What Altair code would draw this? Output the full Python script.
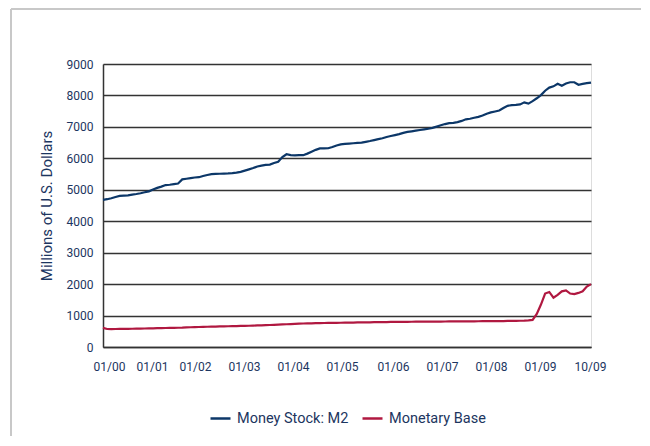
import altair as alt
import pandas as pd

# Monthly values, Jan 2000 .. Oct 2009
m2_values = [
    4680, 4700, 4730, 4770, 4805, 4812, 4820, 4845, 4865, 4890, 4920, 4950,  # 2000
    5010, 5060, 5100, 5150, 5160, 5180, 5200, 5330, 5350, 5370, 5390, 5400,  # 2001
    5440, 5470, 5500, 5505, 5510, 5515, 5520, 5530, 5545, 5570, 5610, 5650,  # 2002
    5690, 5740, 5770, 5790, 5800, 5850, 5890, 6040, 6130, 6100, 6095, 6100,  # 2003
    6100, 6150, 6210, 6270, 6315, 6315, 6320, 6360, 6410, 6445, 6460, 6470,  # 2004
    6480, 6490, 6500, 6525, 6550, 6580, 6610, 6640, 6680, 6710, 6740, 6770,  # 2005
    6810, 6840, 6860, 6880, 6900, 6920, 6940, 6970, 7010, 7050, 7090, 7120,  # 2006
    7130, 7150, 7190, 7240, 7260, 7290, 7320, 7360, 7420, 7460, 7490, 7520,  # 2007
    7600, 7670, 7690, 7700, 7715, 7780, 7740, 7820, 7910, 8010, 8150, 8250,  # 2008
    8290, 8370, 8310, 8380, 8420, 8420, 8340, 8370, 8390, 8410,              # 2009
]
base_values = [
    610, 572, 570, 572, 575, 577, 579, 581, 583, 585, 588, 592,              # 2000
    595, 598, 601, 604, 607, 610, 613, 616, 625, 628, 632, 636,              # 2001
    640, 644, 648, 651, 654, 657, 660, 663, 666, 669, 672, 675,              # 2002
    680, 685, 690, 695, 700, 706, 712, 718, 724, 730, 736, 742,              # 2003
    748, 751, 754, 757, 760, 763, 766, 768, 770, 772, 774, 776,              # 2004
    778, 780, 782, 784, 786, 788, 790, 792, 794, 796, 798, 800,              # 2005
    801, 802, 803, 804, 805, 806, 807, 808, 809, 810, 811, 812,              # 2006
    813, 814, 815, 816, 817, 818, 819, 820, 821, 822, 823, 824,              # 2007
    826, 828, 830, 832, 834, 838, 845, 860, 1050, 1350, 1700, 1750,          # 2008
    1570, 1660, 1770, 1800, 1700, 1680, 1720, 1770, 1920, 2000,              # 2009
]
series_names = ["Money Stock: M2", "Monetary Base"]
series_colors = ["#0c3768", "#b01840"]

# x-axis labels and where they sit (in months since Jan 2000), as in the reference
tick_labels = ["01/00", "01/01", "01/02", "01/03", "01/04", "01/05",
               "01/06", "01/07", "01/08", "01/09", "10/09"]
tick_months = [1.44, 11.75, 22.06, 33.81, 45.56, 57.3,
               69.53, 81.28, 93.03, 104.78, 116.77]

rows = []
for name, vals in zip(series_names, [m2_values, base_values]):
    for i, v in enumerate(vals):
        rows.append({"month": i, "value": v, "series": name})
df = pd.DataFrame(rows)

label_expr = "[" + ",".join(f"'{t}'" for t in tick_labels) + "][indexof([" + \
    ",".join(str(m) for m in tick_months) + "], datum.value)]"

FONT = "Roboto"
TEXT = "#1c3560"

lines = alt.Chart(df).mark_line(strokeWidth=2.2).encode(
    x=alt.X("month:Q",
            scale=alt.Scale(domain=[0, 117], nice=False, zero=False),
            axis=alt.Axis(values=tick_months, labelExpr=label_expr, title=None,
                          grid=False, ticks=False, domainColor="#333333",
                          domainWidth=1.5, labelPadding=14, labelFontSize=12,
                          labelOverlap=False, labelFlush=False,
                          labelColor=TEXT, labelFont=FONT)),
    y=alt.Y("value:Q",
            scale=alt.Scale(domain=[0, 9000], nice=False),
            axis=alt.Axis(values=list(range(0, 9001, 1000)), format="d",
                          title="Millions of U.S. Dollars", titleFontSize=15,
                          titleFontWeight="normal", titleColor=TEXT, titleFont=FONT,
                          titlePadding=12,
                          grid=True, gridColor="#333333", gridWidth=1.3,
                          ticks=False, domainColor="#333333", domainWidth=1.5,
                          labelPadding=10, labelFontSize=12, labelColor=TEXT,
                          labelFont=FONT)),
    color=alt.Color("series:N",
                    scale=alt.Scale(domain=series_names, range=series_colors),
                    legend=alt.Legend(title=None, orient="none", legendX=106,
                                      legendY=343, direction="horizontal",
                                      symbolType="stroke", symbolSize=400,
                                      symbolStrokeWidth=2.5, labelFontSize=14.5,
                                      labelColor=TEXT, labelFont=FONT,
                                      labelOffset=5, columnPadding=8)),
)

# outer frame of the figure: top and left edges, kept inside the drawing area
frame_df = pd.DataFrame({"k": [0]})
left_border = alt.Chart(frame_df).mark_rule(color="#c8c8c8", strokeWidth=2).encode(
    x=alt.value(-92), x2=alt.value(-92), y=alt.value(-55), y2=alt.value(372))
top_border = alt.Chart(frame_df).mark_rule(color="#c8c8c8", strokeWidth=2).encode(
    x=alt.value(-92), x2=alt.value(538), y=alt.value(-55), y2=alt.value(-55))

chart = alt.layer(left_border, top_border, lines).properties(
    width=488, height=283,
    autosize=alt.AutoSizeParams(type="none"),
    padding={"left": 95, "top": 56, "right": 51, "bottom": 90},
).configure_view(stroke=None).configure(background="white")

chart.save("out.html", embed_options={"renderer": "svg", "actions": False})
